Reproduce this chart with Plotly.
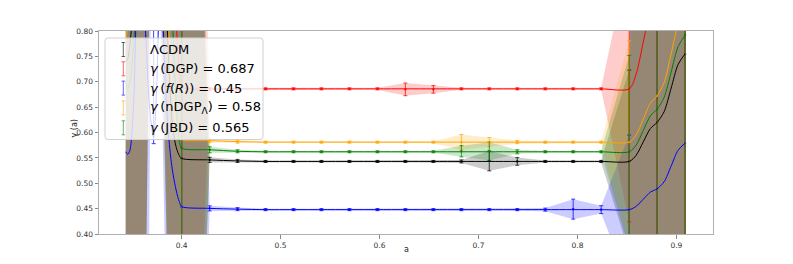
import plotly.graph_objects as go

# ---------------- data ----------------
# scale factor sample points (error-bar / band positions)
a_pts = [0.3435, 0.3717, 0.4000, 0.4283, 0.4565, 0.4848, 0.5131, 0.5413, 0.5696, 0.5979,
         0.6261, 0.6544, 0.6827, 0.7109, 0.7392, 0.7675, 0.7957, 0.8240, 0.8523, 0.8805, 0.9088]

lcdm_pts = [0.600, 1.590, 0.549, 0.546, 0.544, 0.543, 0.543, 0.543, 0.543, 0.543,
            0.543, 0.543, 0.543, 0.544, 0.543, 0.543, 0.543, 0.543, 0.543, 0.620, 0.755]
lcdm_err = [3.54, 0.05, 1.5, 0.005, 0.003, 0.002, 0.002, 0.002, 0.002, 0.002,
            0.002, 0.002, 0.003, 0.0195, 0.0075, 0.002, 0.002, 0.002, 0.180, 5.0, 5.0]

dgp_pts = [0.700, 1.590, 0.690, 0.686, 0.686, 0.686, 0.686, 0.686, 0.686, 0.686,
           0.685, 0.685, 0.686, 0.686, 0.686, 0.686, 0.686, 0.686, 0.686, 0.870, 1.000]
dgp_err = [3.54, 0.05, 1.5, 0.003, 0.002, 0.002, 0.002, 0.002, 0.002, 0.002,
           0.0125, 0.0075, 0.002, 0.002, 0.002, 0.002, 0.002, 0.002, 0.262, 5.0, 5.0]

fr_pts = [0.562, 1.590, 0.453, 0.4505, 0.449, 0.448, 0.448, 0.448, 0.448, 0.448,
          0.448, 0.448, 0.448, 0.448, 0.448, 0.448, 0.449, 0.448, 0.448, 0.489, 0.579]
fr_err = [6.2, 0.05, 1.85, 0.005, 0.003, 0.002, 0.002, 0.002, 0.002, 0.002,
          0.002, 0.002, 0.002, 0.002, 0.002, 0.003, 0.0197, 0.0078, 0.147, 5.0, 5.0]
# lower error bar of f(R) (differs from the band only at the a=0.372 point)
fr_err_low = [6.2, 1.012, 1.85, 0.005, 0.003, 0.002, 0.002, 0.002, 0.002, 0.002,
              0.002, 0.002, 0.002, 0.002, 0.002, 0.003, 0.0197, 0.0078, 0.147, 5.0, 5.0]

ndgp_pts = [0.780, 1.590, 0.586, 0.584, 0.582, 0.581, 0.581, 0.581, 0.581, 0.581,
            0.581, 0.581, 0.581, 0.581, 0.581, 0.581, 0.581, 0.581, 0.581, 0.672, 0.838]
ndgp_err = [3.54, 0.05, 1.5, 0.004, 0.003, 0.002, 0.002, 0.002, 0.002, 0.002,
            0.002, 0.002, 0.015, 0.009, 0.003, 0.002, 0.002, 0.002, 0.200, 5.0, 5.0]

jbd_pts = [0.600, 1.590, 0.569, 0.566, 0.563, 0.562, 0.562, 0.562, 0.562, 0.562,
           0.562, 0.562, 0.563, 0.563, 0.562, 0.562, 0.562, 0.562, 0.562, 0.646, 0.792]
jbd_err = [3.54, 0.05, 1.5, 0.006, 0.003, 0.002, 0.002, 0.002, 0.002, 0.002,
           0.002, 0.002, 0.011, 0.018, 0.004, 0.002, 0.002, 0.002, 0.190, 5.0, 5.0]

# smooth model curves
mid_a = [0.4283, 0.4565, 0.4848, 0.5131, 0.5413, 0.5696, 0.5979, 0.6261, 0.6544,
         0.6827, 0.7109, 0.7392, 0.7675, 0.7957, 0.8240, 0.8523]
right_a = [0.8593, 0.8665, 0.8738, 0.8805, 0.8876, 0.8947, 0.9017, 0.9088]

lcdm_line_a = [0.3435, 0.3455, 0.3475, 0.3500, 0.3530, 0.3600, 0.3720, 0.3820, 0.3860,
               0.3905, 0.3940, 0.3970, 0.4000] + mid_a + right_a
lcdm_line_g = [0.740, 0.745, 0.770, 0.820, 0.900, 1.000, 1.050, 1.000, 0.780,
               0.620, 0.575, 0.557, 0.549] + \
              [0.546, 0.544, 0.543, 0.543, 0.543, 0.543, 0.543, 0.543, 0.543,
               0.543, 0.543, 0.543, 0.543, 0.543, 0.543, 0.543] + \
              [0.555, 0.5815, 0.608, 0.620, 0.641, 0.6875, 0.734, 0.755]

dgp_line_a = [0.3435, 0.3500, 0.3600, 0.3720, 0.3850, 0.3920, 0.3950, 0.3980, 0.4000] + mid_a + right_a
dgp_line_g = [0.900, 1.000, 1.050, 1.050, 1.000, 0.950, 0.800, 0.720, 0.690] + \
             [0.686] * 16 + \
             [0.715, 0.778, 0.841, 0.870, 0.900, 0.950, 1.000, 1.020]

fr_line_a = [0.3435, 0.3455, 0.3475, 0.3495, 0.3520, 0.3550, 0.3600, 0.3640, 0.3680,
             0.3717, 0.3750, 0.3780, 0.3810, 0.3840, 0.3870, 0.3900, 0.3930, 0.3960,
             0.3980, 0.4000] + mid_a + right_a
fr_line_g = [0.562, 0.557, 0.563, 0.590, 0.680, 0.850, 0.900, 0.780, 0.640,
             0.590, 0.700, 0.880, 0.820, 0.680, 0.590, 0.535, 0.500, 0.474,
             0.462, 0.454] + \
            [0.4505, 0.449, 0.448, 0.448, 0.448, 0.448, 0.448, 0.448, 0.448,
             0.448, 0.448, 0.448, 0.448, 0.448, 0.448, 0.448] + \
            [0.4544, 0.4685, 0.4826, 0.489, 0.503, 0.534, 0.565, 0.579]

ndgp_line_a = [0.3435, 0.3450, 0.3480, 0.3550, 0.3720, 0.3830, 0.3860, 0.3900, 0.3940,
               0.3970, 0.4000] + mid_a + right_a
ndgp_line_g = [0.780, 0.800, 0.880, 1.000, 1.050, 1.000, 0.850, 0.700, 0.620,
               0.595, 0.586] + \
              [0.584, 0.582, 0.581, 0.581, 0.581, 0.581, 0.581, 0.581, 0.581,
               0.581, 0.581, 0.581, 0.581, 0.581, 0.581, 0.581] + \
              [0.595, 0.6265, 0.658, 0.672, 0.698, 0.755, 0.812, 0.838]

jbd_line_a = [0.3435, 0.3455, 0.3480, 0.3510, 0.3540, 0.3600, 0.3720, 0.3860, 0.3890,
              0.3930, 0.3960, 0.3980, 0.4000] + mid_a + right_a
jbd_line_g = [0.700, 0.686, 0.700, 0.760, 0.850, 1.000, 1.050, 1.000, 0.900,
              0.720, 0.610, 0.580, 0.569] + \
             [0.566, 0.563, 0.562, 0.562, 0.562, 0.562, 0.562, 0.562, 0.562,
              0.562, 0.562, 0.562, 0.562, 0.562, 0.562, 0.562] + \
             [0.575, 0.604, 0.633, 0.646, 0.669, 0.719, 0.769, 0.792]

TS = "\u2009"  # thin space
labels = ["ΛCDM",
          f"<i>γ</i>{TS}(DGP) = 0.687",
          f"<i>γ</i>{TS}(<i>f</i>(<i>R</i>)) = 0.45",
          f"<i>γ</i>{TS}(nDGP<sub>Λ</sub>) = 0.58",
          f"<i>γ</i>{TS}(JBD) = 0.565"]
x_ticks = [0.4, 0.5, 0.6, 0.7, 0.8, 0.9]
y_ticks = [0.40, 0.45, 0.50, 0.55, 0.60, 0.65, 0.70, 0.75, 0.80]

# ---------------- styling ----------------
series = [
    (lcdm_pts, lcdm_err, lcdm_err, lcdm_line_a, lcdm_line_g, (0, 0, 0)),
    (dgp_pts, dgp_err, dgp_err, dgp_line_a, dgp_line_g, (255, 0, 0)),
    (fr_pts, fr_err, fr_err_low, fr_line_a, fr_line_g, (0, 0, 255)),
    (ndgp_pts, ndgp_err, ndgp_err, ndgp_line_a, ndgp_line_g, (255, 165, 0)),
    (jbd_pts, jbd_err, jbd_err, jbd_line_a, jbd_line_g, (0, 128, 0)),
]
FONT = "DejaVu Sans"

def rgb(c, a=1.0):
    return f"rgba({c[0]},{c[1]},{c[2]},{a})"

fig = go.Figure()

# uncertainty bands
for pts, err, err_lo, la, lg, c in series:
    up = [p + e for p, e in zip(pts, err)]
    lo = [p - e for p, e in zip(pts, err)]
    fig.add_trace(go.Scatter(
        x=a_pts + a_pts[::-1], y=up + lo[::-1], mode="lines", fill="toself",
        fillcolor=rgb(c, 0.2), line=dict(width=0), showlegend=False, hoverinfo="skip"))

# error bars (with small markers)
for pts, err, err_lo, la, lg, c in series:
    fig.add_trace(go.Scatter(
        x=a_pts[1:], y=pts[1:], mode="markers",
        marker=dict(color=rgb(c), size=2, symbol="square"),
        error_y=dict(type="data", symmetric=False, array=err[1:], arrayminus=err_lo[1:],
                     color=rgb(c, 0.75), thickness=1, width=2),
        showlegend=False, hoverinfo="skip"))

# smooth curves
for pts, err, err_lo, la, lg, c in series:
    fig.add_trace(go.Scatter(
        x=la, y=lg, mode="lines", line=dict(color=rgb(c), width=1, shape="spline", smoothing=0.8),
        showlegend=False, hoverinfo="skip"))

# ---------------- layout ----------------
# the page body has an 8px margin: the figure is placed at (8, 8)
OFF = 8
FW, FH = 793 - OFF, 264 - OFF
L, T, PW, PH = 99 - OFF, 31 - OFF, 614, 203
R, B = FW - L - PW, FH - T - PH

def px(xp):  # absolute page x -> paper
    return (xp - OFF - L) / PW

def py(yp):  # absolute page y -> paper
    return (FH - B - (yp - OFF)) / PH

axis_common = dict(showgrid=False, zeroline=False, showline=True, mirror=True,
                   linecolor="#b0b0b0", linewidth=1, ticks="outside", ticklen=3.5,
                   tickcolor="#888888", tickwidth=1,
                   tickfont=dict(family=FONT, size=7.5, color="#333333"))

fig.update_layout(
    width=FW, height=FH, margin=dict(l=L, r=R, t=T, b=B, autoexpand=False),
    plot_bgcolor="white", paper_bgcolor="white", showlegend=False,
    xaxis=dict(range=[0.3165, 0.937], tickvals=x_ticks,
               ticktext=[f"{v:.1f}" for v in x_ticks], **axis_common),
    yaxis=dict(range=[0.4, 0.8], tickvals=y_ticks,
               ticktext=[f"{v:.2f}" for v in y_ticks], **axis_common),
)

# axis titles
fig.add_annotation(x=0.5, y=py(250), xref="paper", yref="paper", text="a", showarrow=False,
                   font=dict(family=FONT, size=8, color="#222222"),
                   xanchor="center", yanchor="middle")
fig.add_annotation(x=px(73.5), y=py(129), xref="paper", yref="paper", text="γ (a)", showarrow=False,
                   textangle=-90, font=dict(family=FONT, size=8, color="#222222"),
                   xanchor="center", yanchor="middle")

# custom legend
x0, x1, y0, y1 = px(105), px(263), py(38), py(139.5)
rx, ry = 3 / PW, 3 / PH
path = (f"M {x0+rx},{y0} L {x1-rx},{y0} Q {x1},{y0} {x1},{y0-ry} L {x1},{y1+ry} "
        f"Q {x1},{y1} {x1-rx},{y1} L {x0+rx},{y1} Q {x0},{y1} {x0},{y1+ry} "
        f"L {x0},{y0-ry} Q {x0},{y0} {x0+rx},{y0} Z")
fig.add_shape(type="path", path=path, xref="paper", yref="paper",
              fillcolor="rgba(255,255,255,0.8)", line=dict(color="#d0d0d0", width=1), layer="above")

row_y = [49.5, 68.8, 88.1, 107.9, 127.8]
for (pts, err, err_lo, la, lg, c), lab, yc in zip(series, labels, row_y):
    col = rgb(c, 0.6)
    sx = px(123.3)
    cw = 1.8 / PW
    fig.add_shape(type="line", xref="paper", yref="paper", x0=sx, x1=sx,
                  y0=py(yc - 7), y1=py(yc + 7), line=dict(color=col, width=1), layer="above")
    for yy in (yc - 7, yc + 7):
        fig.add_shape(type="line", xref="paper", yref="paper", x0=sx - cw, x1=sx + cw,
                      y0=py(yy), y1=py(yy), line=dict(color=col, width=1), layer="above")
    fig.add_annotation(x=px(147.5), y=py(yc), xref="paper", yref="paper", text=lab,
                       showarrow=False, xanchor="left", yanchor="middle",
                       font=dict(family=FONT, size=13, color="black"))

fig.write_html("out.html")
